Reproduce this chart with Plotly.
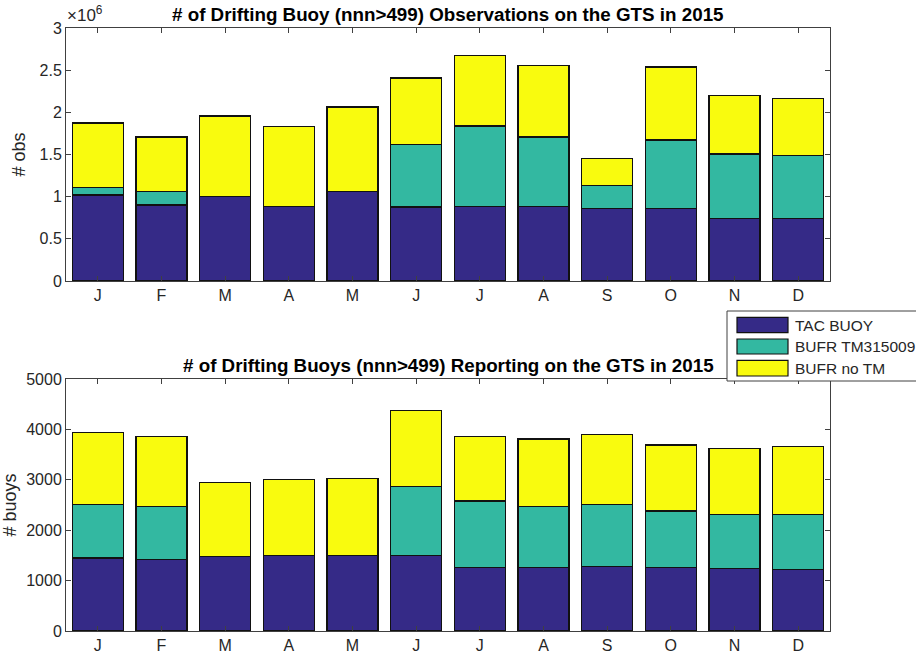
import plotly.graph_objects as go

months = ["J", "F", "M", "A", "M", "J", "J", "A", "S", "O", "N", "D"]
series_names = ["TAC BUOY", "BUFR TM315009", "BUFR no TM"]

# Observations (number of obs)
obs_tac = [1.020e6, 0.901e6, 1.000e6, 0.885e6, 1.063e6, 0.877e6, 0.885e6, 0.881e6, 0.862e6, 0.858e6, 0.743e6, 0.739e6]
obs_tm = [0.091e6, 0.162e6, 0.005e6, 0.0, 0.0, 0.744e6, 0.953e6, 0.827e6, 0.272e6, 0.814e6, 0.763e6, 0.747e6]
obs_notm = [0.762e6, 0.645e6, 0.952e6, 0.949e6, 1.000e6, 0.786e6, 0.838e6, 0.845e6, 0.321e6, 0.866e6, 0.696e6, 0.676e6]

# Buoys (number of buoys)
buoy_tac = [1450, 1424, 1477, 1503, 1503, 1503, 1261, 1267, 1287, 1261, 1248, 1228]
buoy_tm = [1053, 1053, 0, 0, 0, 1365, 1320, 1208, 1221, 1122, 1069, 1076]
buoy_notm = [1437, 1384, 1463, 1510, 1517, 1509, 1274, 1334, 1393, 1307, 1307, 1359]

obs_ticks = [0, 0.5e6, 1e6, 1.5e6, 2e6, 2.5e6, 3e6]
obs_ticktext = ["0", "0.5", "1", "1.5", "2", "2.5", "3"]
buoy_ticks = [0, 1000, 2000, 3000, 4000, 5000]

colors = ["#352a87", "#33b8a1", "#f9fb0e"]
W, H = 916, 662
TXT = "#262626"
AX = "#404040"
FONT = "Liberation Sans, Arial, Helvetica, sans-serif"

xs = list(range(1, 13))
fig = go.Figure()
for vals, name, c in zip([obs_tac, obs_tm, obs_notm], series_names, colors):
    fig.add_trace(go.Bar(x=xs, y=vals, name=name, marker=dict(color=c, line=dict(color="#111111", width=1.2)),
                         xaxis="x", yaxis="y", showlegend=False))
for vals, name, c in zip([buoy_tac, buoy_tm, buoy_notm], series_names, colors):
    fig.add_trace(go.Bar(x=xs, y=vals, name=name, marker=dict(color=c, line=dict(color="#111111", width=1.2)),
                         xaxis="x2", yaxis="y2", showlegend=False))

def px(x):
    return x / W

def py(y):
    return 1 - y / H

x_dom = [px(66), px(830)]
common_x = dict(range=[0.5, 12.5], tickvals=xs, ticktext=months, showline=True, mirror="ticks",
                linecolor=AX, linewidth=1, ticks="inside", ticklen=5, tickcolor=AX, automargin=False,
                tickfont=dict(size=16, color=TXT, family=FONT), showgrid=False, zeroline=False)
common_y = dict(showline=True, mirror="ticks", linecolor=AX, linewidth=1, ticks="inside", ticklen=5,
                tickcolor=AX, automargin=False,
                tickfont=dict(size=16, color=TXT, family=FONT), showgrid=False, zeroline=False)

fig.update_layout(
    width=W, height=H, margin=dict(l=0, r=0, t=0, b=0, autoexpand=False),
    paper_bgcolor="white", plot_bgcolor="white",
    barmode="stack", bargap=0.2,
    font=dict(family=FONT, color=TXT),
    xaxis=dict(domain=x_dom, anchor="y", **common_x),
    yaxis=dict(domain=[py(281), py(28)], anchor="x", range=[0, 3e6], tickvals=obs_ticks, ticktext=obs_ticktext,
               title=dict(text="# obs", font=dict(size=18, color=TXT), standoff=9), **common_y),
    xaxis2=dict(domain=x_dom, anchor="y2", **common_x),
    yaxis2=dict(domain=[py(631), py(379)], anchor="x2", range=[0, 5000], tickvals=buoy_ticks,
                title=dict(text="# buoys", font=dict(size=18, color=TXT), standoff=7), **common_y),
    showlegend=False,
)

annotations = [
    dict(text="<b># of Drifting Buoy (nnn>499) Observations on the GTS in 2015</b>", x=px(448), y=py(14),
         xref="paper", yref="paper", showarrow=False, xanchor="center", yanchor="middle",
         font=dict(size=18.8, color="black")),
    dict(text="<b># of Drifting Buoys (nnn>499) Reporting on the GTS in 2015</b>", x=px(448), y=py(365),
         xref="paper", yref="paper", showarrow=False, xanchor="center", yanchor="middle",
         font=dict(size=18.8, color="black")),
    dict(text="×10<sup>6</sup>", x=px(65), y=py(27), xref="paper", yref="paper", showarrow=False,
         xanchor="left", yanchor="bottom", font=dict(size=17, color=TXT)),
]

shapes = [
    dict(type="rect", xref="paper", yref="paper", x0=px(727), x1=px(930), y0=py(381), y1=py(311),
         line=dict(color=AX, width=1), fillcolor="white", layer="above"),
]
rows = [(317.3, 332.7), (339, 354), (360.3, 376)]
for (t, b), name, c in zip(rows, series_names, colors):
    shapes.append(dict(type="rect", xref="paper", yref="paper", x0=px(737), x1=px(788), y0=py(b), y1=py(t),
                       line=dict(color="#111111", width=1.2), fillcolor=c, layer="above"))
    annotations.append(dict(text=name, x=px(793), y=py((t + b) / 2), xref="paper", yref="paper", showarrow=False,
                            xanchor="left", yanchor="middle", font=dict(size=15.5, color=TXT)))

fig.update_layout(annotations=annotations, shapes=shapes)
fig.write_html("out.html")
